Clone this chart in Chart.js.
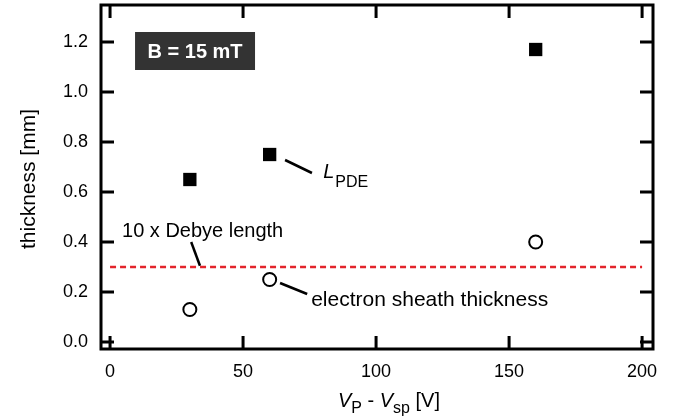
<!DOCTYPE html>
<html>
<head>
<meta charset="utf-8">
<script src="https://cdn.jsdelivr.net/npm/chart.js@4/dist/chart.umd.min.js"></script>
<style>
  html, body { margin: 0; padding: 0; background: #fff; }
  #wrap { width: 678px; height: 419px; }
</style>
</head>
<body>
<div id="wrap"><canvas id="chart" width="678" height="419"></canvas></div>
<script>
// Data
const vDiff = [30, 60, 160];                 // V_P - V_sp [V]
const lpde = [0.65, 0.75, 1.17];             // L_PDE [mm]
const sheath = [0.13, 0.25, 0.40];           // electron sheath thickness [mm]
const debyeX = [0, 200];
const debyeY = [0.30, 0.30];                 // 10 x Debye length [mm]
const xTicks = [0, 50, 100, 150, 200];
const yTicks = [0, 0.2, 0.4, 0.6, 0.8, 1.0, 1.2];

const FONT = '"Liberation Sans", Arial, Helvetica, sans-serif';

// Frame, inward ticks, annotations and axis titles
const decor = {
    id: 'decor',
    afterDatasetsDraw(chart) {
        const { ctx, chartArea: a, scales: { x, y } } = chart;
        ctx.save();
        ctx.strokeStyle = '#000';
        ctx.lineWidth = 3;
        ctx.lineCap = 'butt';
        ctx.strokeRect(a.left, a.top, a.right - a.left, a.bottom - a.top);

        const tl = 13;
        ctx.beginPath();
        xTicks.forEach(v => {
            const px = x.getPixelForValue(v);
            ctx.moveTo(px, a.bottom); ctx.lineTo(px, a.bottom - tl);
            ctx.moveTo(px, a.top); ctx.lineTo(px, a.top + tl);
        });
        yTicks.forEach(v => {
            const py = y.getPixelForValue(v);
            ctx.moveTo(a.left, py); ctx.lineTo(a.left + tl, py);
            ctx.moveTo(a.right, py); ctx.lineTo(a.right - tl, py);
        });
        ctx.stroke();

        const P = (dx, dy) => [x.getPixelForValue(dx), y.getPixelForValue(dy)];
        const leader = (p0, p1) => {
            ctx.beginPath();
            ctx.lineWidth = 2.5;
            ctx.moveTo(p0[0], p0[1]); ctx.lineTo(p1[0], p1[1]);
            ctx.stroke();
        };

        // B = 15 mT box
        const b0 = P(9.4, 1.24), b1 = P(54.5, 1.088);
        ctx.fillStyle = '#333';
        ctx.fillRect(b0[0], b0[1], b1[0] - b0[0], b1[1] - b0[1]);
        ctx.fillStyle = '#fff';
        ctx.font = 'bold 20px ' + FONT;
        ctx.textAlign = 'center';
        ctx.textBaseline = 'middle';
        ctx.fillText('B = 15 mT', (b0[0] + b1[0]) / 2, (b0[1] + b1[1]) / 2 + 1);

        ctx.fillStyle = '#000';
        ctx.textAlign = 'left';
        ctx.textBaseline = 'alphabetic';

        // L_PDE
        leader(P(65.8, 0.728), P(75.9, 0.676));
        let lp = P(80.1, 0.656);
        ctx.font = 'italic 20px ' + FONT;
        ctx.fillText('L', lp[0], lp[1]);
        const lw = ctx.measureText('L').width;
        ctx.font = '16px ' + FONT;
        ctx.fillText('PDE', lp[0] + lw + 1, lp[1] + 9);

        // 10 x Debye length
        leader(P(30.5, 0.40), P(33.8, 0.305));
        ctx.font = '20px ' + FONT;
        let dp = P(4.5, 0.42);
        ctx.fillText('10 x Debye length', dp[0], dp[1]);

        // electron sheath thickness
        leader(P(63.9, 0.236), P(74.1, 0.192));
        ctx.font = '21px ' + FONT;
        let sp = P(75.6, 0.144);
        ctx.fillText('electron sheath thickness', sp[0], sp[1]);

        // y title
        ctx.save();
        ctx.font = '21px ' + FONT;
        ctx.translate(a.left - 66, (a.top + a.bottom) / 2 + 2);
        ctx.rotate(-Math.PI / 2);
        ctx.textAlign = 'center';
        ctx.fillText('thickness [mm]', 0, 0);
        ctx.restore();

        // x title: V_P - V_sp [V]
        const parts = [
            { t: 'V', f: 'italic 20px ', dy: 0 },
            { t: 'P', f: '16px ', dy: 6 },
            { t: ' - ', f: '20px ', dy: 0 },
            { t: 'V', f: 'italic 20px ', dy: 0 },
            { t: 'sp', f: '16px ', dy: 6 },
            { t: ' [V]', f: '20px ', dy: 0 }
        ];
        let total = 0;
        parts.forEach(p => { ctx.font = p.f + FONT; p.w = ctx.measureText(p.t).width; total += p.w; });
        let cx = (a.left + a.right) / 2 + 12 - total / 2;
        const base = a.bottom + 58;
        parts.forEach(p => {
            ctx.font = p.f + FONT;
            ctx.fillText(p.t, cx, base + p.dy);
            cx += p.w;
        });
        ctx.restore();
    }
};

const noPad = s => { s.paddingTop = 0; s.paddingBottom = 0; s.paddingLeft = 0; s.paddingRight = 0; };

const ctx = document.getElementById('chart').getContext('2d');
new Chart(ctx, {
    type: 'scatter',
    data: {
        datasets: [
            {
                label: '10 x Debye length',
                type: 'line',
                data: debyeX.map((v, i) => ({ x: v, y: debyeY[i] })),
                borderColor: '#e3242b',
                borderWidth: 2.5,
                borderDash: [6, 4],
                pointRadius: 0,
                fill: false
            },
            {
                label: 'L_PDE',
                data: vDiff.map((v, i) => ({ x: v, y: lpde[i] })),
                pointStyle: 'rect',
                pointRadius: 9.4,
                backgroundColor: '#000',
                borderColor: '#000',
                borderWidth: 0
            },
            {
                label: 'electron sheath thickness',
                data: vDiff.map((v, i) => ({ x: v, y: sheath[i] })),
                pointStyle: 'circle',
                pointRadius: 6.5,
                backgroundColor: '#fff',
                borderColor: '#000',
                borderWidth: 2
            }
        ]
    },
    options: {
        responsive: false,
        devicePixelRatio: 1,
        animation: false,
        layout: { autoPadding: false, padding: { top: 5, right: 25, left: 0, bottom: 0 } },
        plugins: {
            legend: { display: false },
            tooltip: { enabled: false }
        },
        scales: {
            x: {
                type: 'linear',
                min: -3.4,
                max: 204.1,
                grid: { display: false, drawTicks: false },
                border: { display: false },
                afterBuildTicks: s => { s.ticks = xTicks.map(v => ({ value: v })); },
                afterFit: s => { s.height = 70; noPad(s); },
                ticks: {
                    padding: 12,
                    color: '#000',
                    maxRotation: 0,
                    font: { family: FONT, size: 18 },
                    callback: v => String(v)
                }
            },
            y: {
                type: 'linear',
                min: -0.028,
                max: 1.348,
                grid: { display: false, drawTicks: false },
                border: { display: false },
                afterBuildTicks: s => { s.ticks = yTicks.map(v => ({ value: v })); },
                afterFit: s => { s.width = 101; noPad(s); },
                ticks: {
                    padding: 13,
                    color: '#000',
                    font: { family: FONT, size: 18 },
                    callback: v => Number(v).toFixed(1)
                }
            }
        }
    },
    plugins: [decor]
});
</script>
</body>
</html>
